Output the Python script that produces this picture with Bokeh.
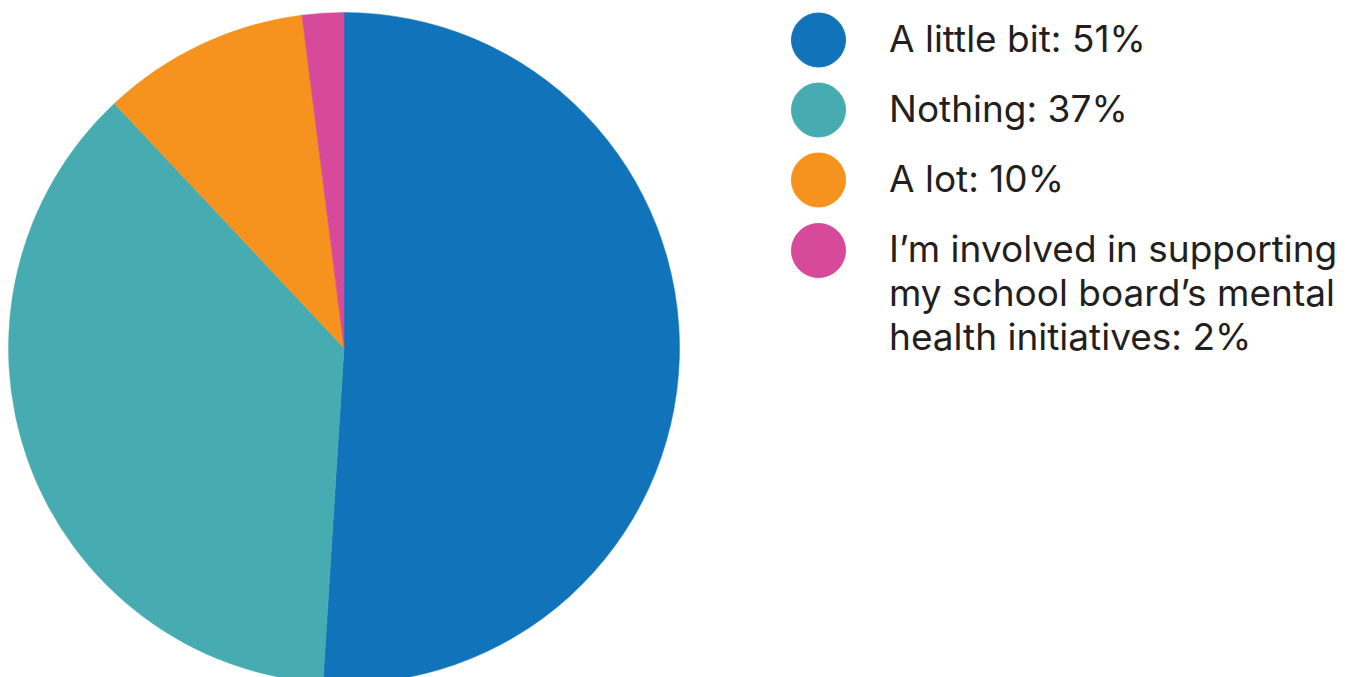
import numpy as np
from bokeh.plotting import figure
from bokeh.embed import file_html
from bokeh.resources import INLINE
from bokeh.core.properties import value

categories = ["A little bit", "Nothing", "A lot",
              "I’m involved in supporting\nmy school board’s mental\nhealth initiatives"]
shares = [51, 37, 10, 2]
colors = ["#1174BB", "#47ACB1", "#F6921E", "#D6499B"]

W, H = 1356, 677
p = figure(width=W, height=H, x_range=(0, W), y_range=(0, H),
           output_backend="svg", toolbar_location=None, min_border=0,
           match_aspect=False)
p.axis.visible = False
p.grid.visible = False
p.outline_line_color = None
p.background_fill_color = "white"

def px(x):
    return x

def py(y):
    return H - y

# pie
cx, cy, r = px(343.5), py(347.5), 335.5
frac = np.array(shares, dtype=float) / sum(shares)
cum = np.concatenate([[0], np.cumsum(frac)])
start = np.pi / 2 - cum[1:] * 2 * np.pi
end = np.pi / 2 - cum[:-1] * 2 * np.pi
p.wedge(x=[cx] * len(shares), y=[cy] * len(shares), radius=r,
        start_angle=list(start), end_angle=list(end),
        fill_color=colors, line_color=colors, line_width=0.5)

# legend
row_y = [39.5, 109.5, 179.5, 250]
lx, ltx = 818, 888.5
fs = 37
for i, (cat, s, c) in enumerate(zip(categories, shares, colors)):
    p.circle(x=[px(lx)], y=[py(row_y[i])], radius=27, fill_color=c, line_color=c)
    label = f"{cat}: {s}%"
    lines = label.split("\n")
    for j, line in enumerate(lines):
        base = row_y[i] - 2 + j * 44
        p.text(x=[px(ltx)], y=[py(base)], text=[line],
               text_font=value("Inter"), text_font_size=f"{fs}px",
               text_color="#231F20", text_baseline="alphabetic", text_align="left")

open("out.html", "w").write(file_html(p, INLINE))
